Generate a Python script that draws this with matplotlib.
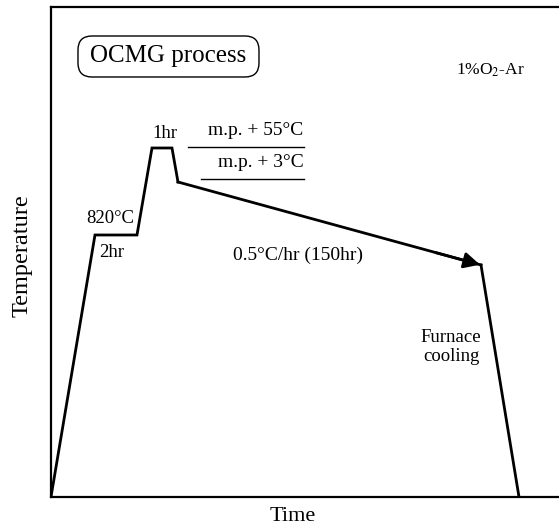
import matplotlib
matplotlib.use("Agg")
import matplotlib.pyplot as plt
from matplotlib.patches import FancyBboxPatch

plt.rcParams['font.family'] = ['Liberation Serif', 'DejaVu Serif']
plt.rcParams['mathtext.fontset'] = 'stix'

# heat-treatment schedule (arbitrary time / temperature units)
time = [0, 44, 86, 101, 121, 127, 430, 468]
temp = [0, 262, 262, 349, 349, 315, 232, 0]

fig = plt.figure(figsize=(5.59, 5.30), dpi=100)
ax = fig.add_axes([0.0912, 0.0623, 0.9088, 0.9245])
ax.set_xlim(0, 508)
ax.set_ylim(0, 490)
ax.set_xticks([])
ax.set_yticks([])
for s in ['left', 'bottom', 'top']:
    ax.spines[s].set_linewidth(1.6)
ax.spines['right'].set_visible(False)

# profile, slow-cool segment gets an arrow head
ax.plot(time[:6], temp[:6], color='k', lw=2.0, solid_joinstyle='miter')
ax.plot(time[5:7], temp[5:7], color='k', lw=2.0)
ax.plot(time[6:], temp[6:], color='k', lw=2.0, solid_joinstyle='miter')
ax.annotate('', xy=(time[6] - 1, temp[6] + 0.3), xytext=(time[6] - 45, temp[6] + 12.3),
            arrowprops=dict(arrowstyle='-|>', color='k', lw=2.0, mutation_scale=24,
                            shrinkA=0, shrinkB=0))

# melting-point marker lines
ax.plot([137, 253], [350, 350], color='k', lw=1.0)
ax.plot([150, 253], [318, 318], color='k', lw=1.0)

ax.text(117, 441, 'OCMG process', fontsize=18, ha='center', va='center')
box = FancyBboxPatch((27, 420), 181, 41, boxstyle='round,pad=0,rounding_size=14',
                     fc='none', ec='k', lw=1.0)
ax.add_patch(box)

ax.text(439, 427, '1%O$_2$-Ar', fontsize=12.5, ha='center', va='center')
ax.text(114, 363, '1hr', fontsize=13.5, ha='center', va='center')
ax.text(205, 366, 'm.p. + 55°C', fontsize=14, ha='center', va='center')
ax.text(253, 334, 'm.p. + 3°C', fontsize=14, ha='right', va='center')
ax.text(59, 278, '820°C', fontsize=13.5, ha='center', va='center')
ax.text(61, 244, '2hr', fontsize=13.5, ha='center', va='center')
ax.text(247, 242, '0.5°C/hr (150hr)', fontsize=14, ha='center', va='center')
ax.text(400, 150, 'Furnace\ncooling', fontsize=13.5, ha='center', va='center',
        linespacing=1.2)

ax.set_xlabel('Time', fontsize=16)
ax.set_ylabel('Temperature', fontsize=17.5)
ax.xaxis.set_label_coords(242 / 508, -10 / 490)
ax.yaxis.set_label_coords(-18 / 508, 241 / 490)

fig.savefig('out.png', dpi=100)
